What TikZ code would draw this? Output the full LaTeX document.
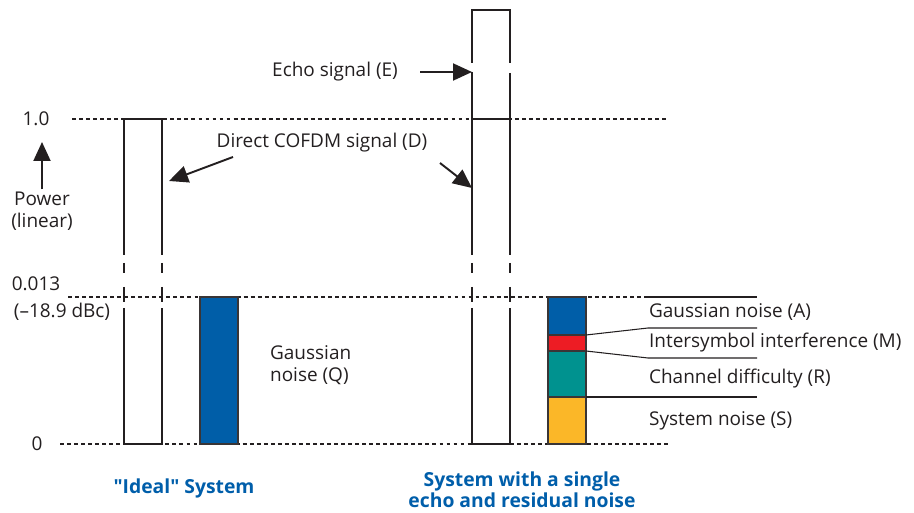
\documentclass[tikz,border=0pt]{standalone}
\usepackage{fontspec}
\setmainfont{Open Sans}
\newfontfamily\titlefont{Open Sans}[Ligatures=TeXOff]
\usepackage{tikz}
\usetikzlibrary{
    arrows.meta,
    positioning
}
\definecolor{ink}{RGB}{35,31,32}
\definecolor{titleblue}{RGB}{0,94,170}
\definecolor{noiseA}{RGB}{0,94,168}
\definecolor{isiM}{RGB}{237,28,36}
\definecolor{channelR}{RGB}{0,146,143}
\definecolor{systemS}{RGB}{251,183,40}
\tikzset{
    line cap=butt,
    label text/.style={
        font=\fontsize{10.8}{12.8}\selectfont,
        text=ink,
        inner sep=1pt
    },
    axis text/.style={
        label text,
        align=center
    },
    system title/.style={
        font=\titlefont\fontsize{11}{12}\selectfont\bfseries,
        text=titleblue,
        align=center,
        inner sep=1pt
    },
    level line/.style={
        draw=ink,
        line width=0.6pt,
        dash pattern=on 2.2pt off 1.8pt
    },
    bar outline/.style={
        draw=ink,
        line width=0.8pt
    },
    noise bar/.style={
        draw=ink!90,
        line width=1.6pt
    },
    leader/.style={
        draw=ink,
        line width=0.6pt
    },
    pointer/.style={
        draw=ink,
        line width=1.1pt,
        -{Triangle[length=0.38cm, width=0.34cm]}
    }
}

\begin{document}
\begin{tikzpicture}[x=0.02cm, y=-0.02cm]
    \useasboundingbox (0,0) rectangle (914,513);

    % Reference levels
    \draw[level line] (72,119) -- (667,119);
    \draw[level line] (68,297) -- (648,297);
    \draw[level line] (60,444) -- (668,444);

    % Axis labels
    \node[label text] (one) at (36,119) {1.0};
    \node[label text] (small) at (36,284) {0.013};
    \node[label text] (dbc) at (62,312) {(--18.9 dBc)};
    \node[label text] (zero) at (37,444) {0};
    \node[axis text] (power) at (42,211) {Power\\(linear)};
    \coordinate (powertip) at (42,142);
    \draw[pointer] (power.north) -- (powertip);

    % Ideal system: direct signal bar with broken scale
    \draw[bar outline] (124,255) -- (124,119) -- (162,119) -- (162,255);
    \draw[bar outline] (124,308) -- (124,444) -- (162,444) -- (162,308);
    \foreach \xx in {124,162} {
        \draw[bar outline] (\xx,263) -- (\xx,273);
        \draw[bar outline] (\xx,287) -- (\xx,302);
    }

    % Ideal system: Gaussian noise bar
    \fill[noiseA] (200,297) rectangle (238,444);
    \draw[noise bar] (200,297) rectangle (238,444);
    \node[label text, align=left, anchor=west] (gaussq) at (268,365) {Gaussian\\noise (Q)};

    % Echo system: direct plus echo bar
    \draw[bar outline] (472,63) -- (472,10) -- (510,10) -- (510,63);
    \draw[bar outline] (472,72) -- (472,255);
    \draw[bar outline] (510,73) -- (510,255);
    \draw[bar outline] (472,119) -- (510,119);
    \draw[bar outline] (472,308) -- (472,444) -- (510,444) -- (510,308);
    \foreach \xx in {472,510} {
        \draw[bar outline] (\xx,263) -- (\xx,273);
        \draw[bar outline] (\xx,287) -- (\xx,302);
    }

    % Echo system: stacked noise contributions
    \fill[noiseA] (548,297) rectangle (586,335);
    \fill[isiM] (548,335) rectangle (586,351);
    \fill[channelR] (548,351) rectangle (586,397);
    \fill[systemS] (548,397) rectangle (586,444);
    \draw[noise bar] (548,297) rectangle (586,444);
    \foreach \yy in {335,351,397} {
        \draw[noise bar, line width=1.2pt] (548,\yy) -- (586,\yy);
    }

    % Leaders to the noise labels
    \draw[leader] (648,297) -- (757,297);
    \draw[leader] (586,335) -- (648,328) -- (757,328);
    \draw[leader] (586,351) -- (648,358) -- (757,358);
    \draw[leader] (586,397) -- (757,397);
    \node[label text, anchor=west] (noisea) at (647,312) {Gaussian noise (A)};
    \node[label text, anchor=west] (isi) at (647,343) {Intersymbol interference (M)};
    \node[label text, anchor=west] (chan) at (647,379) {Channel difficulty (R)};
    \node[label text, anchor=west] (sysn) at (647,421) {System noise (S)};

    % Signal callouts
    \node[label text] (echo) at (335,72) {Echo signal (E)};
    \coordinate (echotail) at (420,72);
    \coordinate (echotip) at (472,72);
    \draw[pointer] (echotail) -- (echotip);

    \node[label text] (direct) at (322,143) {Direct COFDM signal (D)};
    \coordinate (directltail) at (233,157);
    \coordinate (directl) at (169,181);
    \coordinate (directrtail) at (440,163);
    \coordinate (directr) at (472,188);
    \draw[pointer] (directltail) -- (directl);
    \draw[pointer] (directrtail) -- (directr);

    % System captions
    \node[system title] (ideal) at (184,488) {"Ideal" System};
    \node[system title] (echosys) at (522,490) {System with a single\\echo and residual noise};
\end{tikzpicture}
\end{document}
